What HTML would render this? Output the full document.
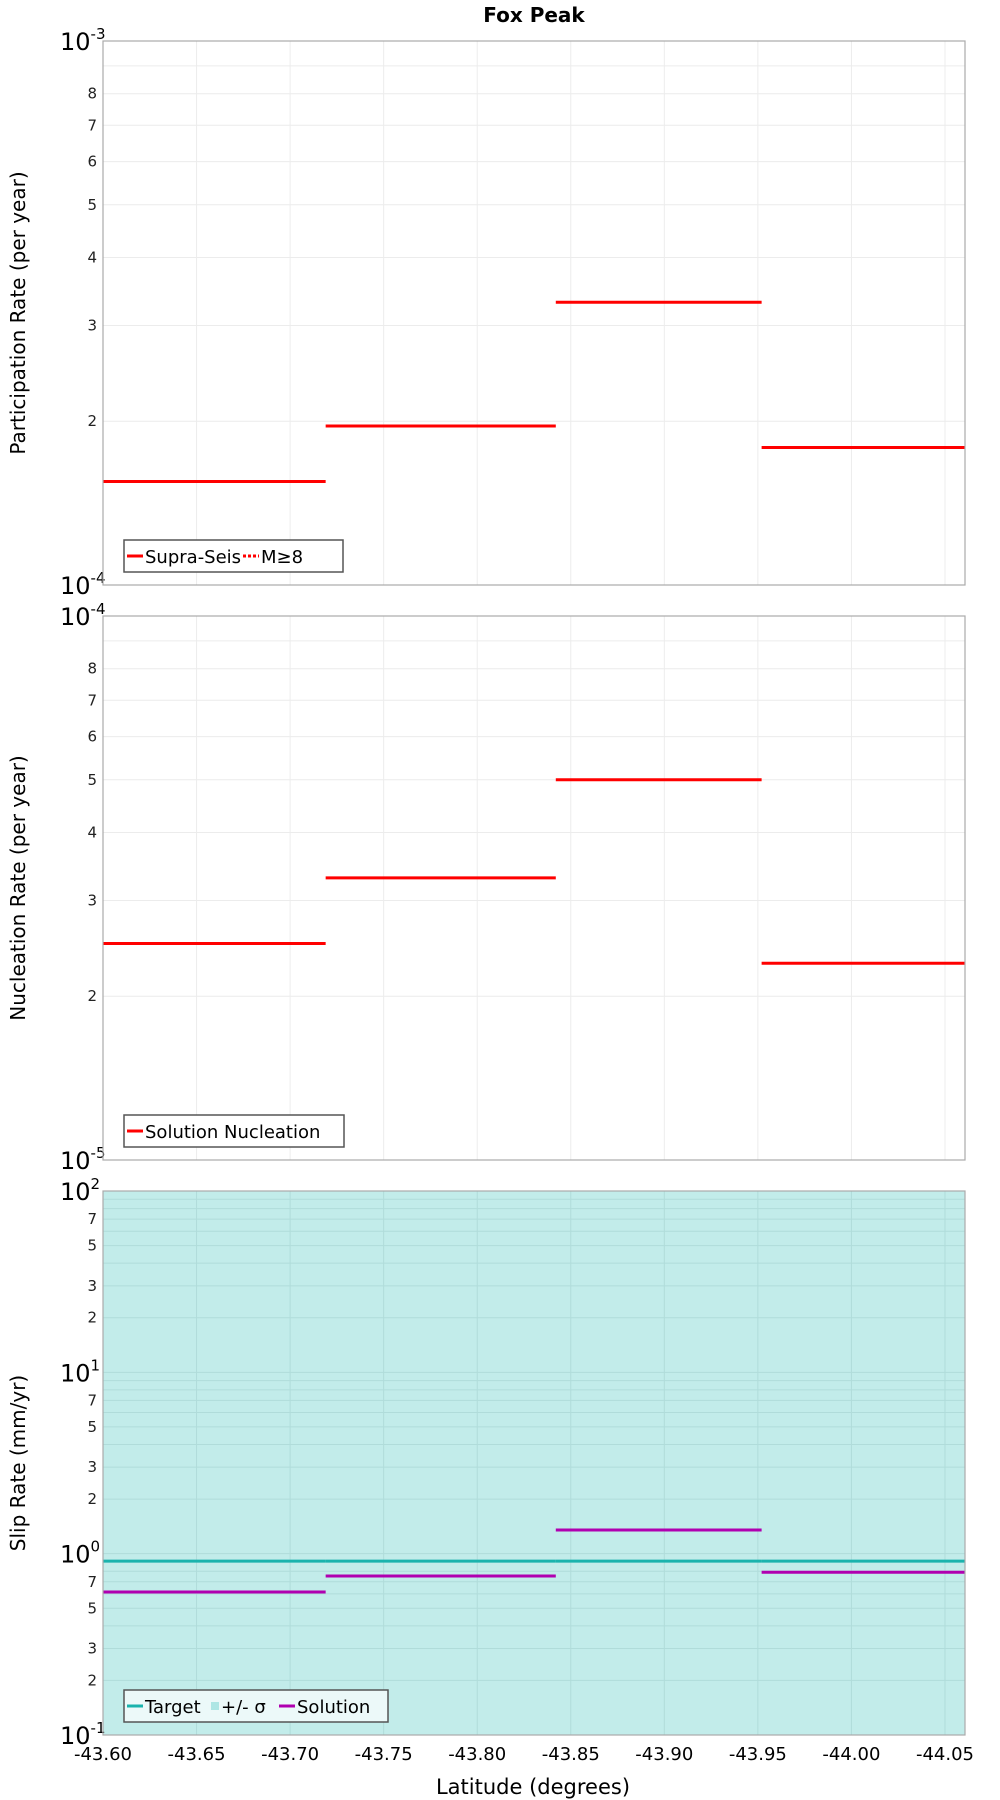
<!DOCTYPE html>
<html><head><meta charset="utf-8"><style>
html,body{margin:0;padding:0;background:#fff;}
svg{display:block;font-family:"DejaVu Sans","Liberation Sans",sans-serif;}
</style></head><body>
<svg id="chart" width="1000" height="1800" viewBox="0 0 1000 1800" xmlns="http://www.w3.org/2000/svg">
<text x="534" y="22" text-anchor="middle" font-size="20" font-weight="bold">Fox Peak</text>
<text x="533" y="1794" text-anchor="middle" font-size="21">Latitude (degrees)</text>
</svg>
<script>
// ---- data ----
const binEdges = [-43.60, -43.719, -43.842, -43.952, -44.0607];
const participationRates = [1.55e-4, 1.96e-4, 3.31e-4, 1.79e-4];
const nucleationRates = [2.5e-5, 3.3e-5, 5.0e-5, 2.3e-5];
const slipTarget = [0.91, 0.91, 0.91, 0.91];
const slipSolution = [0.615, 0.753, 1.35, 0.79];
const xTicks = [-43.60, -43.65, -43.70, -43.75, -43.80, -43.85, -43.90, -43.95, -44.00, -44.05];
const xTickLabels = ["-43.60","-43.65","-43.70","-43.75","-43.80","-43.85","-43.90","-43.95","-44.00","-44.05"];

const NS = "http://www.w3.org/2000/svg";
const svg = document.getElementById('chart');
const L = 103, R = 965;
const xMin = -43.60, xMax = -44.0607;
function xs(v){ return L + (v - xMin) / (xMax - xMin) * (R - L); }
function mk(tag, attrs, parent){ const e = document.createElementNS(NS, tag); for (const k in attrs) e.setAttribute(k, attrs[k]); (parent||svg).appendChild(e); return e; }

function panel(cfg){
  const T = cfg.top, B = cfg.top + 544;
  const g = mk('g', {});
  
  
  const lo = Math.log10(cfg.min), hi = Math.log10(cfg.max);
  const ys = v => B - (Math.log10(v) - lo) / (hi - lo) * (B - T);
  const bg = mk('rect', {x:L, y:T, width:R-L, height:B-T, fill:'#fff'}, g);
  
  
  if (cfg.band){
    const band = mk('rect', {x:L, y:T, width:R-L, height:B-T, fill:'#c2ecea'}, g);
    
    
  }
  const gridCol = cfg.band ? '#b0dcda' : '#ececec';
  xTicks.forEach(t => { mk('line', {x1:xs(t), x2:xs(t), y1:T, y2:B, stroke:gridCol, 'stroke-width':1}, g); });
  for (let d = Math.round(lo); d < Math.round(hi); d++){
    for (let m = 1; m <= 9; m++){
      const v = m * Math.pow(10, d), y = ys(v);
      mk('line', {x1:L, x2:R, y1:y, y2:y, stroke:gridCol, 'stroke-width':1}, g);
      if (m > 1 && cfg.minorLabels.includes(m)){
        const t = mk('text', {x:97, y:y+5, 'text-anchor':'end', 'font-size':15, fill:'#222'}, g);
        t.textContent = String(m);
        
        
      }
    }
  }
  for (let d = Math.round(lo); d <= Math.round(hi); d++){
    const y = ys(Math.pow(10, d));
    const t = mk('text', {x:60, y:y+9, 'font-size':24}, g);
    
    
    t.textContent = '10';
    const s = mk('tspan', {dy:-11, 'font-size':15}, t);
    s.textContent = String(d);
  }
  cfg.series.forEach(sr => {
    sr.values.forEach((v, i) => {
      const y = ys(v);
      const ln = mk('line', {x1:xs(binEdges[i]), x2:xs(binEdges[i+1]), y1:y, y2:y, stroke:sr.color, 'stroke-width':3}, g);
      
      
    });
  });
  mk('rect', {x:L, y:T, width:R-L, height:B-T, fill:'none', stroke:'#aaa', 'stroke-width':1.2}, g);
  const yt = mk('text', {x:0, y:0, 'text-anchor':'middle', 'font-size':20, transform:`translate(25,${(T+B)/2}) rotate(-90)`}, g);
  
  
  yt.textContent = cfg.ytitle;
  const lg = mk('g', {}, g);
  
  
  const ly = B - 45;
  mk('rect', {x:124, y:ly, width:cfg.legendW, height:32, fill:cfg.band?'#ecf9f9':'#fff', stroke:'#555', 'stroke-width':1.5}, lg);
  let cx = 127;
  cfg.legend.forEach(it => {
    if (it.swatch){
      mk('rect', {x:cx, y:ly+12, width:8, height:8, fill:it.color}, lg);
      cx += 10;
    } else {
      mk('line', {x1:cx, x2:cx+16, y1:ly+16, y2:ly+16, stroke:it.color, 'stroke-width':3, 'stroke-dasharray':it.dash||'none'}, lg);
      cx += 18;
    }
    const t = mk('text', {x:cx, y:ly+23, 'font-size':18}, lg);
    t.textContent = it.label;
    
    
    cx += it.w;
  });
  return B;
}

panel({name:'participation-panel', top:41, min:1e-4, max:1e-3, minorLabels:[2,3,4,5,6,7,8],
  ytitle:'Participation Rate (per year)', legendW:219,
  series:[{name:'supra-seis', values:participationRates, color:'#ff0000'}],
  legend:[{label:'Supra-Seis', color:'#ff0000', w:98},{label:'M≥8', color:'#ff0000', dash:'3,2', w:40}]});
panel({name:'nucleation-panel', top:616, min:1e-5, max:1e-4, minorLabels:[2,3,4,5,6,7,8],
  ytitle:'Nucleation Rate (per year)', legendW:220,
  series:[{name:'solution-nucleation', values:nucleationRates, color:'#ff0000'}],
  legend:[{label:'Solution Nucleation', color:'#ff0000', w:190}]});
const B3 = panel({name:'slip-rate-panel', top:1191, min:0.1, max:100, minorLabels:[2,3,5,7], band:true,
  ytitle:'Slip Rate (mm/yr)', legendW:264,
  series:[{name:'target', values:slipTarget, color:'#1ab3ad'},{name:'solution', values:slipSolution, color:'#b000b0'}],
  legend:[{label:'Target', color:'#1ab3ad', w:66},{label:'+/- σ', color:'#aee6e4', swatch:true, w:58},{label:'Solution', color:'#b000b0', w:90}]});

xTicks.forEach((t, i) => {
  const lb = mk('text', {x:xs(t), y:B3+25, 'text-anchor':'middle', 'font-size':18});
  
  
  lb.textContent = xTickLabels[i];
});
</script>
</body></html>
